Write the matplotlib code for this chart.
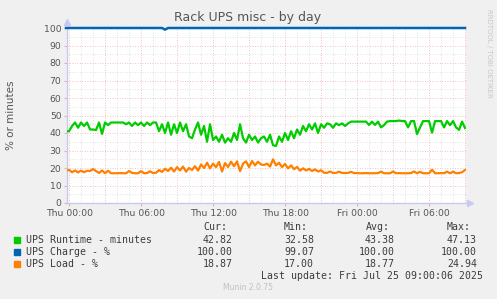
import numpy as np
import matplotlib
matplotlib.use("Agg")
import matplotlib.pyplot as plt

# Data: 15 minute samples, hours relative to Thu 00:00
hours = np.arange(134) * 0.25 - 0.25

runtime = [41, 41, 44, 46, 43, 46, 44, 46, 42, 42,
           41.7, 46, 39.5, 46, 44.5, 46, 46, 46, 46, 46,
           45, 46, 44, 46, 44.5, 46, 44, 46, 44.5, 46,
           46, 41, 45, 40, 46, 39, 45, 40, 46, 41,
           45, 38, 37, 42, 46, 39, 44, 35, 45, 36,
           38, 35, 39, 34.5, 37, 35, 40, 36, 45, 37,
           34.5, 39, 36, 38, 34.5, 37, 38, 35, 39, 33,
           32.6, 38, 35, 40, 36, 41, 37, 42, 39, 44,
           41, 45, 42, 45.5, 40, 45, 43, 45.5, 45, 43,
           45.5, 44.5, 45.5, 44, 45.5, 46.5, 46.5, 46.5, 46.5, 46.5,
           46.5, 44.6, 46.5, 44.6, 46.5, 43.2, 44.5, 46.5, 46.8, 46.8,
           46.8, 47.1, 46.8, 46.8, 43.2, 46.8, 46.8, 39.4, 43.2, 46.8,
           46.8, 46.8, 40.2, 46.8, 46.8, 46.8, 43.2, 46.8, 44.5, 46.8,
           43.2, 41.8, 46.5, 42.82]

charge = [100.0] * 134
charge[33] = 99.07

load = [18.5, 18.9, 17.6, 18.6, 17.5, 18.5, 17.6, 18.4, 18.3, 19.4,
        18.2, 17.2, 18.6, 17.0, 18.4, 17.0, 17.0, 17.0, 17.1, 17.0,
        17.0, 18.3, 17.2, 17.0, 17.0, 18.2, 17.0, 17.1, 18.1, 17.1,
        17.3, 18.8, 17.8, 19.6, 18.3, 20.2, 18.0, 20.5, 18.6, 20.8,
        17.9, 20.0, 18.9, 21.0, 18.5, 22.0, 20.0, 23.0, 19.8, 22.5,
        20.5, 23.5, 18.0, 22.8, 20.6, 23.6, 21.0, 23.8, 18.2, 22.5,
        23.8, 20.5, 24.0, 21.5, 23.6, 22.0, 21.7, 22.5, 20.8, 24.94,
        21.5, 23.0, 20.5, 22.3, 19.8, 21.5, 19.3, 20.6, 18.5, 19.8,
        18.6, 19.5, 18.3, 19.2, 18.0, 18.7, 17.3, 17.2, 18.0, 17.2,
        17.2, 17.9, 17.2, 17.1, 17.2, 17.8, 17.1, 17.1, 17.0, 17.0,
        17.1, 17.0, 17.0, 17.0, 17.1, 17.9, 17.0, 17.0, 17.0, 18.0,
        17.0, 17.1, 17.0, 17.0, 17.0, 17.1, 18.0, 17.0, 17.8, 17.0,
        17.0, 17.0, 19.0, 17.0, 17.0, 17.1, 17.0, 17.9, 17.0, 17.9,
        17.0, 17.1, 17.6, 18.87]

tick_hours = [0, 6, 12, 18, 24, 30]
tick_labels = ["Thu 00:00", "Thu 06:00", "Thu 12:00", "Thu 18:00", "Fri 00:00", "Fri 06:00"]

series_names = ["UPS Runtime - minutes", "UPS Charge - %", "UPS Load - %"]
series_colors = ["#00cc00", "#0066b3", "#ff8000"]
cur = ["42.82", "100.00", "18.87"]
mins = ["32.58", "99.07", "17.00"]
avgs = ["43.38", "100.00", "18.77"]
maxs = ["47.13", "100.00", "24.94"]

W, H = 497, 299
fig = plt.figure(figsize=(W / 100, H / 100), dpi=100, facecolor="#f0f0f0")
ax = fig.add_axes([67 / W, 1 - 203 / H, (466 - 67) / W, (203 - 28) / H])
ax.set_facecolor("white")


def px(x, y):
    return x / W, 1 - y / H


# grid: minor grey, major red, both dotted
dot = (0, (1, 2))
for v in range(0, 101, 5):
    if v % 10:
        ax.axhline(v, color="#d8d8d8", lw=0.6, ls=dot, zorder=0)
for v in range(0, 101, 10):
    ax.axhline(v, color="#e8b0b0", lw=0.6, ls=dot, zorder=0)
for h in range(0, 34):
    if h % 3:
        ax.axvline(h, color="#d8d8d8", lw=0.6, ls=dot, zorder=0)
    else:
        ax.axvline(h, color="#e8b0b0", lw=0.6, ls=dot, zorder=0)

ax.plot(hours, runtime, color=series_colors[0], lw=1.6, zorder=3)
ax.plot(hours, charge, color=series_colors[1], lw=1.8, zorder=3, clip_on=False)
ax.plot(hours, load, color=series_colors[2], lw=1.6, zorder=3)

ax.set_xlim(-0.17, 33.08)
ax.set_ylim(0, 100)
ax.set_xticks(tick_hours)
ax.set_xticklabels(tick_labels)
ax.set_yticks(range(0, 101, 10))
ax.tick_params(labelsize=6.7, labelcolor="#555555", length=2, color="#e8b0b0", pad=2)

for s in ["top", "right"]:
    ax.spines[s].set_visible(False)
for s in ["left", "bottom"]:
    ax.spines[s].set_color("#c8c8f0")
    ax.spines[s].set_linewidth(1)

# little axis arrows
ax.plot([0], [1.035], marker="^", ms=4, color="#c8c8f0", transform=ax.transAxes, clip_on=False)
ax.plot([1.01], [0], marker=">", ms=4, color="#c8c8f0", transform=ax.transAxes, clip_on=False)

fig.text(*px(248, 18), "Rack UPS misc - by day", ha="center", va="center",
         fontsize=9, color="#555555")
fig.text(*px(11, 115), "% or minutes", rotation=90, ha="center", va="center",
         fontsize=7.5, color="#555555")
fig.text(*px(489, 53), "RRDTOOL / TOBI OETIKER", rotation=-90, ha="center", va="center",
         fontsize=5, color="#c8c8c8")

# legend table
mono = dict(family="DejaVu Sans Mono", fontsize=7.1, color="#3c3c3c", va="center")
for label, xr in zip(["Cur:", "Min:", "Avg:", "Max:"], [227, 308, 390, 471]):
    fig.text(*px(xr, 227), label, ha="right", **mono)
rows_y = [240, 252, 264]
for i in range(3):
    y = rows_y[i]
    fig.patches.append(plt.Rectangle(px(14, y + 3), 6 / W, 6 / H, transform=fig.transFigure,
                                     color=series_colors[i], figure=fig))
    fig.text(*px(26, y), series_names[i], ha="left", **mono)
    for val, xr in zip([cur[i], mins[i], avgs[i], maxs[i]], [233, 314, 395, 477]):
        fig.text(*px(xr, y), val, ha="right", **mono)
fig.text(*px(483, 276), "Last update: Fri Jul 25 09:00:06 2025", ha="right", **mono)
fig.text(*px(248, 288), "Munin 2.0.75", ha="center", va="center", fontsize=5.5, color="#c0c0c0")

fig.savefig("out.png", dpi=100, facecolor=fig.get_facecolor())
